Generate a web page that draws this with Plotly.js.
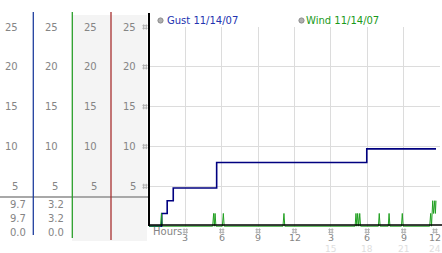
<!DOCTYPE html>
<html><head><meta charset="utf-8">
<script src="https://cdn.plot.ly/plotly-3.0.1.min.js"></script>
<style>html,body{margin:0;padding:0;background:#fff}#chart{width:442px;height:253px}</style>
</head><body><div id="chart"></div>
<script>
// ---- data ----
const gustHours = [0, 1.05, 1.5, 2.0, 5.58, 17.96, 23.67];
const gustMph   = [0, 1.6, 3.2, 4.8, 8.0, 9.7, 9.7];
const windHours = [0, 0.95, 1.03, 1.1, 5.25, 5.33, 5.39, 5.45, 5.52, 6.05, 6.13, 6.2,
  11.05, 11.13, 11.2, 17.0, 17.07, 17.14, 17.21, 17.3, 17.38, 17.45, 18.92, 18.99, 19.06,
  19.73, 19.8, 19.87, 20.82, 20.89, 20.96, 23.15, 23.23, 23.3, 23.4, 23.47, 23.57, 23.62, 23.67];
const windMph   = [0, 0, 1.6, 0, 0, 1.6, 0, 1.6, 0, 0, 1.6, 0,
  0, 1.6, 0, 0, 1.6, 0, 1.6, 0, 1.6, 0, 0, 1.6, 0,
  0, 1.6, 0, 0, 1.6, 0, 0, 1.6, 0, 3.2, 1.6, 3.2, 1.6, 3.2];
const yTicks = [5, 10, 15, 20, 25];
const xTickVals = [3, 6, 9, 12, 15, 18, 21, 24];
const xTickText = ['3', '6', '9', '12', '3', '6', '9', '12'];
const xTick24Text = ['', '', '', '', '15', '18', '21', '24'];
const gustStats = ['9.7', '9.7', '0.0'];
const windStats = ['3.2', '3.2', '0.0'];
const gustLabel = 'Gust 11/14/07';
const windLabel = 'Wind 11/14/07';
const xTitle = 'Hours';

// ---- geometry ----
const W = 442, H = 253, L = 149, R = 2, T = 27, B = 26;
const pw = W - L - R, ph = H - T - B;
const X0 = 0, X1 = 24, Y0 = -0.1, Y1 = 25;
const px = x => (x - L) / pw;
const py = y => (H - B - y) / ph;
const xPaper = v => (v - X0) / (X1 - X0);
const yPaper = v => (v - Y0) / (Y1 - Y0);
const FONT = 'DejaVu Sans';
const GRAY = '#858585';

const shapes = [];
const ann = [];
shapes.push({type: 'rect', xref: 'paper', yref: 'paper', x0: px(72), x1: px(147), y0: py(241), y1: py(15),
  fillcolor: '#f4f4f4', line: {width: 0}, layer: 'below'});
shapes.push({type: 'line', xref: 'paper', yref: 'paper', x0: px(0), x1: px(149), y0: py(197), y1: py(197),
  line: {color: '#a8a8a8', width: 2}});
[[33.3, 235, '#1f3f9f'], [72.3, 238, '#2a9f2a'], [111, 240, '#a83030']].forEach(([x, yb, c]) => {
  shapes.push({type: 'line', xref: 'paper', yref: 'paper', x0: px(x), x1: px(x), y0: py(12), y1: py(yb),
    line: {color: c, width: 1.3}});
});
shapes.push({type: 'line', xref: 'paper', yref: 'paper', x0: px(149), x1: px(149), y0: py(13), y1: py(226),
  line: {color: '#000', width: 2}});
shapes.push({type: 'line', xref: 'paper', yref: 'paper', x0: px(149), x1: px(442), y0: py(225), y1: py(225),
  line: {color: '#000', width: 1.6}});
[160.5, 301.5].forEach(cx => {
  shapes.push({type: 'circle', xref: 'paper', yref: 'paper', x0: px(cx - 2.6), x1: px(cx + 2.6),
    y0: py(20.5 + 2.6), y1: py(20.5 - 2.6), fillcolor: '#b0b0b0', line: {color: '#8a8a8a', width: 1}});
});

// small hatch glyph used as tick marks (paper coordinates, offsets in pixels)
function hashShape(xp, yp) {
  const dx = 1.3 / pw, dy = 1.3 / ph, hx = 2.6 / pw, hy = 2.6 / ph;
  const p = `M${xp - dx},${yp - hy}L${xp - dx},${yp + hy}M${xp + dx},${yp - hy}L${xp + dx},${yp + hy}` +
            `M${xp - hx},${yp - dy}L${xp + hx},${yp - dy}M${xp - hx},${yp + dy}L${xp + hx},${yp + dy}`;
  return {type: 'path', xref: 'paper', yref: 'paper', path: p, line: {color: '#b0b0b0', width: 1}};
}
xTickVals.forEach(v => shapes.push(hashShape(v === X1 ? px(435) : xPaper(v), py(231))));
yTicks.forEach(v => shapes.push(hashShape(px(145), yPaper(v))));

const colRight = [20, 60, 99, 137.5];
colRight.forEach(cr => {
  yTicks.forEach(v => {
    ann.push({xref: 'paper', yref: 'y', x: px(cr), y: v, xanchor: 'right', yanchor: 'middle',
      text: String(v), showarrow: false, font: {family: FONT, size: 10, color: GRAY}});
  });
});
const statY = [204.3, 218.7, 232.7];
gustStats.forEach((s, i) => ann.push({xref: 'paper', yref: 'paper', x: px(27.5), y: py(statY[i]),
  xanchor: 'right', yanchor: 'middle', text: s, showarrow: false, font: {family: FONT, size: 10, color: GRAY}}));
windStats.forEach((s, i) => ann.push({xref: 'paper', yref: 'paper', x: px(66), y: py(statY[i]),
  xanchor: 'right', yanchor: 'middle', text: s, showarrow: false, font: {family: FONT, size: 10, color: GRAY}}));

xTickVals.forEach((v, i) => {
  const last = i === xTickVals.length - 1;
  const base = last ? {xref: 'paper', x: px(441.5), xanchor: 'right'} : {xref: 'x', x: v, xanchor: 'center'};
  ann.push(Object.assign({}, base, {yref: 'paper', y: py(237.9), yanchor: 'middle', text: xTickText[i],
    showarrow: false, borderpad: 0, font: {family: FONT, size: 9.5, color: GRAY}}));
  if (xTick24Text[i]) {
    ann.push(Object.assign({}, base, {yref: 'paper', y: py(248.6), yanchor: 'middle', text: xTick24Text[i],
      showarrow: false, borderpad: 0, font: {family: FONT, size: 9, color: '#dedede'}}));
  }
});
ann.push({xref: 'paper', yref: 'paper', x: px(151.5), y: py(231), xanchor: 'left', yanchor: 'middle',
  text: xTitle, showarrow: false, borderpad: 0, font: {family: FONT, size: 10, color: GRAY}});
ann.push({xref: 'paper', yref: 'paper', x: px(165), y: py(20.5), xanchor: 'left', yanchor: 'middle',
  text: gustLabel, showarrow: false, font: {family: FONT, size: 10, color: '#2233b0'}});
ann.push({xref: 'paper', yref: 'paper', x: px(304), y: py(20.5), xanchor: 'left', yanchor: 'middle',
  text: windLabel, showarrow: false, font: {family: FONT, size: 10, color: '#1a9a1a'}});

const traces = [
  {x: gustHours, y: gustMph, type: 'scatter', mode: 'lines', line: {shape: 'hv', color: '#000080', width: 1.6},
   name: gustLabel, hoverinfo: 'skip'},
  {x: windHours, y: windMph, type: 'scatter', mode: 'lines', line: {color: '#22a022', width: 1},
   name: windLabel, hoverinfo: 'skip'}
];

const layout = {
  width: W, height: H,
  margin: {l: L, r: R, t: T, b: B, pad: 0},
  paper_bgcolor: '#fff', plot_bgcolor: '#fff',
  showlegend: false,
  font: {family: FONT, size: 10, color: GRAY},
  xaxis: {range: [X0, X1], tickvals: xTickVals, showticklabels: false, ticks: '',
    showgrid: true, gridcolor: '#dcdcdc', gridwidth: 1, zeroline: false, showline: false, fixedrange: true},
  yaxis: {range: [Y0, Y1], tickvals: yTicks, showticklabels: false, ticks: '',
    showgrid: true, gridcolor: '#dcdcdc', gridwidth: 1, zeroline: false, showline: false, fixedrange: true},
  shapes: shapes,
  annotations: ann
};

Plotly.newPlot('chart', traces, layout, {displayModeBar: false, staticPlot: true});
</script>
</body></html>
